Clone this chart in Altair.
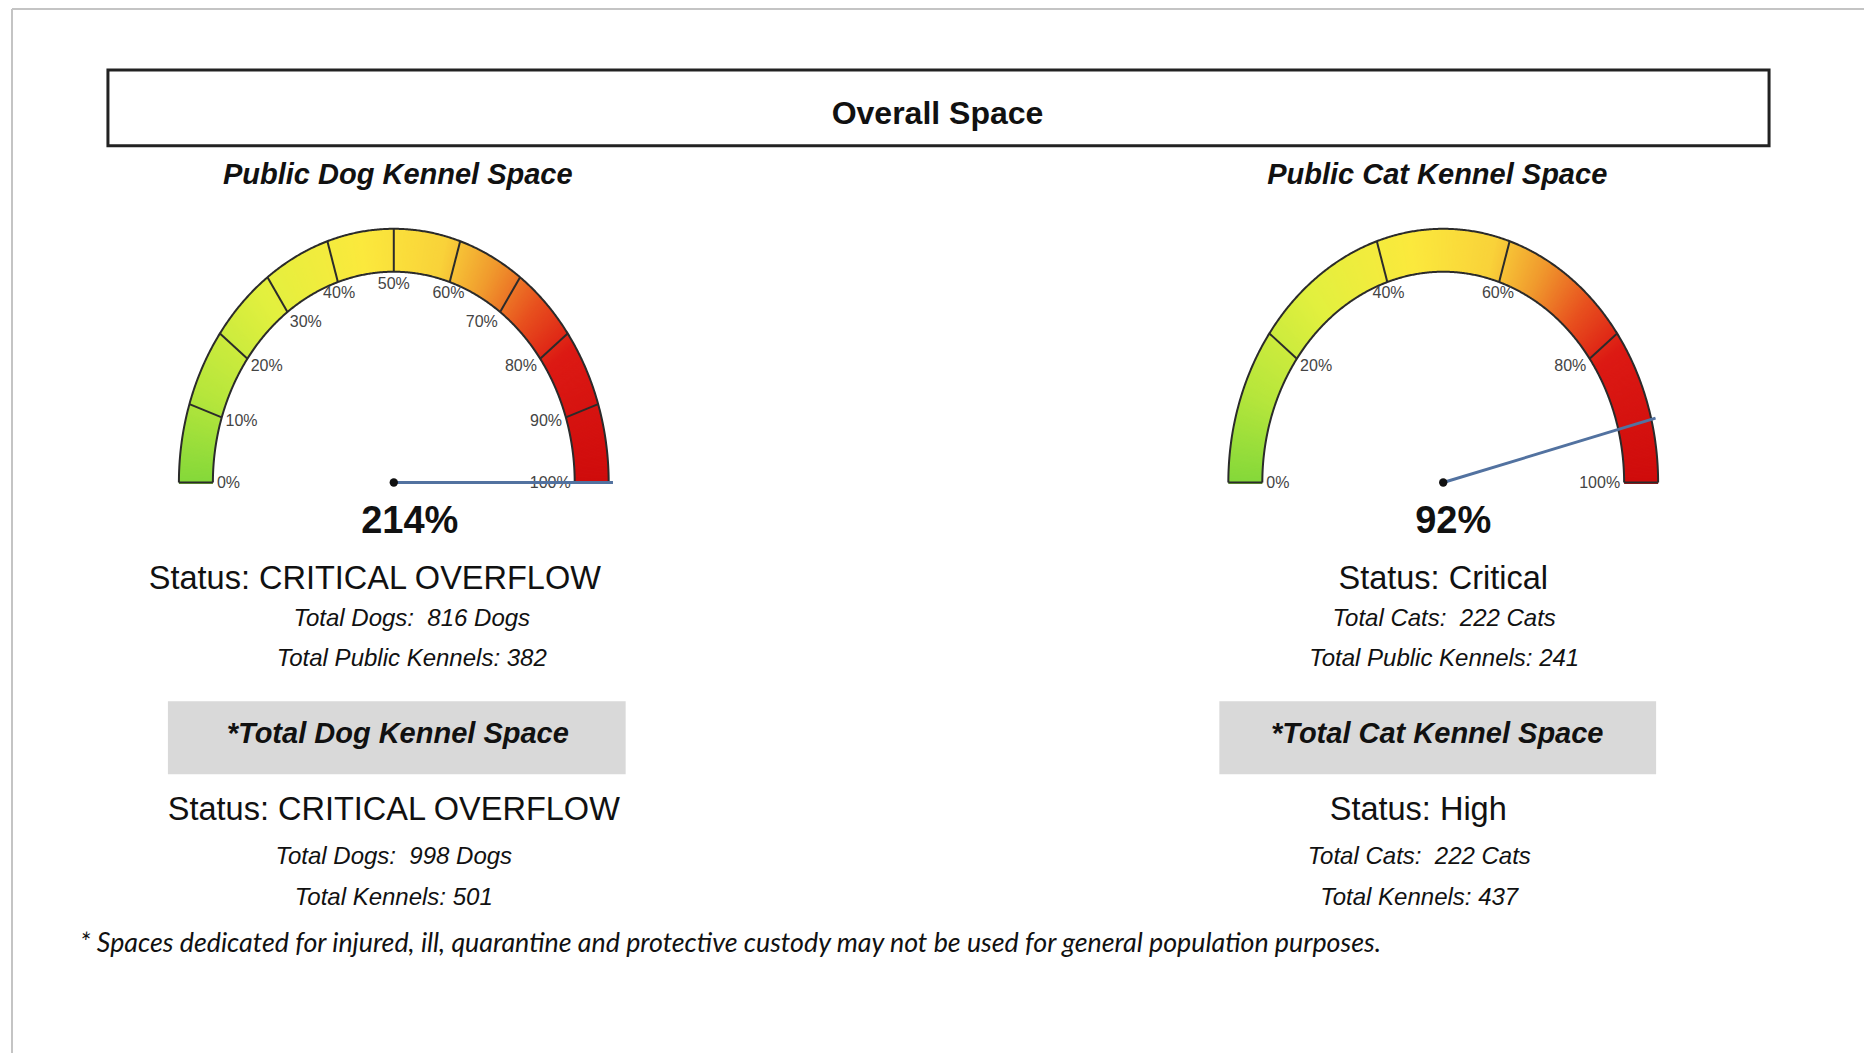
import numpy as np
import pandas as pd
import altair as alt

# ------------------------------------------------------------------ data
main_title = "Overall Space"
gauge_titles = ["Public Dog Kennel Space", "Public Cat Kennel Space"]
gauge_values = [214, 92]                       # percent occupancy
gauge_ticks = [[0, 10, 20, 30, 40, 50, 60, 70, 80, 90, 100],
               [0, 20, 40, 60, 80, 100]]
public_status = ["Status: CRITICAL OVERFLOW", "Status: Critical"]
public_animals = ["Total Dogs:\u00a0 816 Dogs", "Total Cats:\u00a0 222 Cats"]
public_kennels = ["Total Public Kennels: 382", "Total Public Kennels: 241"]
total_titles = ["*Total Dog Kennel Space", "*Total Cat Kennel Space"]
total_status = ["Status: CRITICAL OVERFLOW", "Status: High"]
total_animals = ["Total Dogs:\u00a0 998 Dogs", "Total Cats:\u00a0 222 Cats"]
total_kennels = ["Total Kennels: 501", "Total Kennels: 437"]
footnote = ("* Spaces dedicated for injured, ill, quarantine and protective "
            "custody may not be used for general population purposes.")

# colour ramp of the gauge band (percent -> colour)
ramp_stops = [0, 12, 28, 45, 58, 66, 74, 82, 100]
ramp_colors = ["#84d83a", "#b6e63c", "#e2f03f", "#fbe93d", "#f9d23a",
               "#f09a2e", "#e8521f", "#dc1a14", "#cf0c0c"]

# ------------------------------------------------------------------ layout
W, H = 1857, 1046
X = dict(scale=alt.Scale(domain=[8, 8 + W], nice=False, zero=False), axis=None)
Y = dict(scale=alt.Scale(domain=[8, 8 + H], nice=False, zero=False, reverse=True), axis=None)

SANS = "Liberation Sans, Arial, sans-serif"
FOOT = "Lato, Open Sans, sans-serif"

gauge_cx = [394, 1444]
gauge_cy = 483
RX_OUT, RY_OUT, RX_IN, RY_IN = 215, 254, 181, 211

col_pct_x = [410, 1454]
col_status_x = [375, 1444]
col_public_x = [412, 1445]
col_sub_x = [398, 1438]
col_box = [(168, 626), (1220, 1657)]
col_total_status_x = [394, 1419]
col_total_x = [394, 1420]


def ell(cx, cy, rx, ry, pct):
    th = np.pi * (1 - np.asarray(pct, dtype=float) / 100.0)
    return cx + rx * np.cos(th), cy - ry * np.sin(th)


layers = []

# page frame
frame = pd.DataFrame({"x": [12, 12], "y": [9, 9], "x2": [12, 8 + W], "y2": [8 + H, 9]})
layers.append(alt.Chart(frame).mark_rule(color="#c4c4c4", strokeWidth=2).encode(
    x=alt.X("x:Q", **X), y=alt.Y("y:Q", **Y), x2="x2:Q", y2="y2:Q"))

# title box
tbox = pd.DataFrame({"x": [108], "x2": [1770], "y": [70], "y2": [146]})
layers.append(alt.Chart(tbox).mark_rect(fill="white", stroke="#222222", strokeWidth=3).encode(
    x=alt.X("x:Q", **X), x2="x2:Q", y=alt.Y("y:Q", **Y), y2="y2:Q"))

# grey boxes
gb = pd.DataFrame({"x": [b[0] for b in col_box], "x2": [b[1] for b in col_box],
                   "y": [702, 702], "y2": [775, 775]})
layers.append(alt.Chart(gb).mark_rect(fill="#d9d9d9").encode(
    x=alt.X("x:Q", **X), x2="x2:Q", y=alt.Y("y:Q", **Y), y2="y2:Q"))

# gauges
fill_rows, outline_rows, div_rows, lab_rows, needle_rows, pivot_rows = [], [], [], [], [], []
pgrid = np.linspace(0, 100, 520)
for g in range(2):
    cx = gauge_cx[g]
    xi, yi = ell(cx, gauge_cy, RX_IN, RY_IN, pgrid)
    xo, yo = ell(cx, gauge_cy, RX_OUT, RY_OUT, pgrid)
    for k in range(len(pgrid)):
        fill_rows.append({"x": xi[k], "y": yi[k], "x2": xo[k], "y2": yo[k], "p": pgrid[k]})
    for k in range(len(pgrid)):
        outline_rows.append({"x": xi[k], "y": yi[k], "ring": f"{g}in", "o": k})
        outline_rows.append({"x": xo[k], "y": yo[k], "ring": f"{g}out", "o": k})
    ticks = gauge_ticks[g]
    ti = ell(cx, gauge_cy, RX_IN, RY_IN, ticks)
    to = ell(cx, gauge_cy, RX_OUT, RY_OUT, ticks)
    la = ell(cx, gauge_cy, RX_IN - 4, RY_IN - 12, ticks)
    for k, t in enumerate(ticks):
        div_rows.append({"x": ti[0][k], "y": ti[1][k], "x2": to[0][k], "y2": to[1][k]})
        c = np.cos(np.pi * (1 - t / 100.0))
        al = "left" if c < -0.35 else ("right" if c > 0.35 else "center")
        lab_rows.append({"x": la[0][k], "y": la[1][k], "text": f"{t}%", "al": al})
    v = min(gauge_values[g], 100)
    ne = ell(cx, gauge_cy, RX_OUT * 1.02, RY_OUT * 1.02, [v])
    needle_rows.append({"x": cx, "y": gauge_cy, "x2": ne[0][0], "y2": ne[1][0]})
    pivot_rows.append({"x": cx, "y": gauge_cy})

layers.append(alt.Chart(pd.DataFrame(fill_rows)).mark_rule(strokeWidth=3, strokeCap="butt").encode(
    x=alt.X("x:Q", **X), y=alt.Y("y:Q", **Y), x2="x2:Q", y2="y2:Q",
    color=alt.Color("p:Q", scale=alt.Scale(domain=ramp_stops, range=ramp_colors, interpolate="rgb"),
                    legend=None)))
layers.append(alt.Chart(pd.DataFrame(outline_rows)).mark_line(color="#2b2b2b", strokeWidth=2).encode(
    x=alt.X("x:Q", **X), y=alt.Y("y:Q", **Y), detail="ring:N", order="o:Q"))
layers.append(alt.Chart(pd.DataFrame(div_rows)).mark_rule(color="#2b2b2b", strokeWidth=2).encode(
    x=alt.X("x:Q", **X), y=alt.Y("y:Q", **Y), x2="x2:Q", y2="y2:Q"))
labdf = pd.DataFrame(lab_rows)
for al in ["left", "center", "right"]:
    layers.append(alt.Chart(labdf[labdf["al"] == al]).mark_text(
        font=SANS, fontSize=16, color="#444444", align=al, baseline="middle").encode(
        x=alt.X("x:Q", **X), y=alt.Y("y:Q", **Y), text="text:N"))
layers.append(alt.Chart(pd.DataFrame(needle_rows)).mark_rule(color="#5272a0", strokeWidth=3).encode(
    x=alt.X("x:Q", **X), y=alt.Y("y:Q", **Y), x2="x2:Q", y2="y2:Q"))
layers.append(alt.Chart(pd.DataFrame(pivot_rows)).mark_circle(size=70, color="#111111", opacity=1).encode(
    x=alt.X("x:Q", **X), y=alt.Y("y:Q", **Y)))


def text_layer(xs, ys, texts, size, weight="normal", style="normal", font=SANS, align="center",
               color="#111111"):
    df = pd.DataFrame({"x": xs, "y": ys, "text": texts})
    return alt.Chart(df).mark_text(font=font, fontSize=size, fontWeight=weight, fontStyle=style,
                                   align=align, baseline="alphabetic", color=color).encode(
        x=alt.X("x:Q", **X), y=alt.Y("y:Q", **Y), text="text:N")


layers.append(text_layer([938], [124], [main_title], 32, weight="bold"))
layers.append(text_layer(col_sub_x, [184, 184], gauge_titles, 29, weight="bold", style="italic"))
layers.append(text_layer(col_pct_x, [534, 534], [f"{v}%" for v in gauge_values], 38, weight="bold"))
layers.append(text_layer(col_status_x, [590, 590], public_status, 32.5))
layers.append(text_layer(col_public_x, [627, 627], public_animals, 24, style="italic"))
layers.append(text_layer(col_public_x, [667, 667], public_kennels, 24, style="italic"))
layers.append(text_layer(col_sub_x, [744, 744], total_titles, 29, weight="bold", style="italic"))
layers.append(text_layer(col_total_status_x, [821, 821], total_status, 32.5))
layers.append(text_layer(col_total_x, [865, 865], total_animals, 24, style="italic"))
layers.append(text_layer(col_total_x, [906, 906], total_kennels, 24, style="italic"))
layers.append(text_layer([80], [953], [footnote], 26.8, style="italic", font=FOOT, align="left"))

chart = alt.layer(*layers).properties(
    width=W, height=H, padding=0, background="white",
    autosize=alt.AutoSizeParams(type="fit", contains="padding"),
).configure_view(stroke=None)

chart.save("out.html", embed_options={"renderer": "svg", "actions": False})
